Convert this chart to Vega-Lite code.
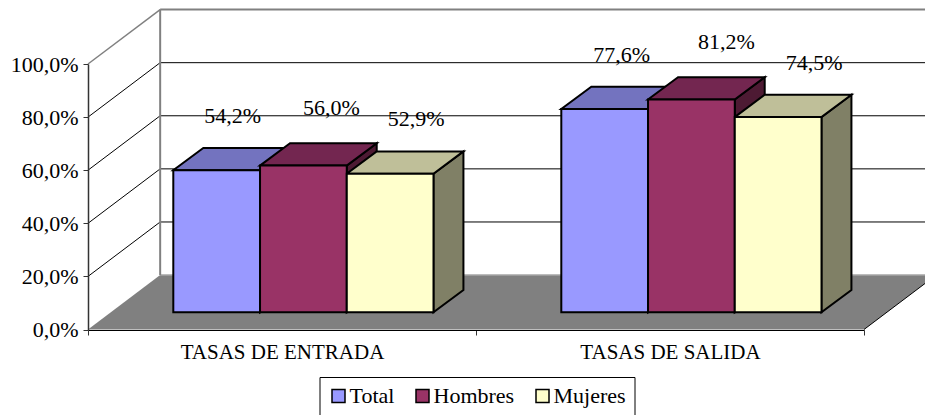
{
"$schema":"https://vega.github.io/schema/vega-lite/v6.json",
"width":837,"height":330,
"padding":{"left":88,"top":0,"right":0,"bottom":85},
"autosize":{"type":"none"},
"background":"#ffffff",
"config":{"view":{"stroke":null},"text":{"font":"Liberation Serif"}},
"data":{"values":[
{"group":"TASAS DE ENTRADA","series":"Total","value":54.2},
{"group":"TASAS DE ENTRADA","series":"Hombres","value":56.0},
{"group":"TASAS DE ENTRADA","series":"Mujeres","value":52.9},
{"group":"TASAS DE SALIDA","series":"Total","value":77.6},
{"group":"TASAS DE SALIDA","series":"Hombres","value":81.2},
{"group":"TASAS DE SALIDA","series":"Mujeres","value":74.5}
]},
"transform":[
{"calculate":"datum.group==='TASAS DE ENTRADA'?0:1","as":"g"},
{"calculate":"datum.series==='Total'?0:datum.series==='Hombres'?1:2","as":"s"},
{"calculate":"datum.g+0.2198+datum.s*0.2235","as":"xl"},
{"calculate":"datum.xl+0.2235","as":"xr"}
],
"resolve":{"scale":{"x":"independent","y":"independent","color":"independent"},"axis":{"x":"independent","y":"independent"}},
"layer":[
{"data":{"values":[{"t":0},{"t":1}]},
 "transform":[{"calculate":"datum.t*0.186","as":"xa"},{"calculate":"2+datum.t*0.186","as":"xb"},{"calculate":"datum.t*20.5","as":"yy"}],
 "mark":{"type":"area","orient":"horizontal","fill":"#808080"},
 "encoding":{
  "y":{"field":"yy","type":"quantitative","scale":{"domain":[0,100],"range":[329.5,64],"nice":false},"axis":null},
  "x":{"field":"xa","type":"quantitative","scale":{"domain":[0,2],"range":[0,776],"nice":false,"zero":false},"axis":null},
  "x2":{"field":"xb"}}},
{"data":{"values":[{"tick":0},{"tick":20},{"tick":40},{"tick":60},{"tick":80},{"tick":100}]},
 "transform":[{"filter":"datum.tick>0"},{"calculate":"datum.tick+20.5","as":"back"}],
 "mark":{"type":"rule"},
 "encoding":{
  "x":{"datum":0,"type":"quantitative","scale":{"domain":[0,2],"range":[0,776],"nice":false,"zero":false},"axis":null},
  "x2":{"datum":0.186},
  "y":{"field":"tick","type":"quantitative","scale":{"domain":[0,100],"range":[329.5,64],"nice":false},
   "axis":{"values":[0,20,40,60,80,100],"labelExpr":"replace(format(datum.value,'.1f'),'.',',')+'%'","title":null,"grid":false,"domainColor":"#333333","domainWidth":1.5,"tickColor":"#333333","tickSize":5,"labelFont":"Liberation Serif","labelFontSize":22,"labelColor":"#000000","labelPadding":5,"zindex":1}},
  "y2":{"field":"back"},
  "stroke":{"condition":{"test":"datum.tick===100","value":"#808080"},"value":"#000000"},
  "strokeWidth":{"condition":{"test":"datum.tick===100","value":1.5},"value":1}}},
{"data":{"values":[{"tick":20},{"tick":40},{"tick":60},{"tick":80},{"tick":100}]},
 "transform":[{"calculate":"datum.tick+20.5","as":"back"}],
 "mark":{"type":"rule"},
 "encoding":{
  "x":{"datum":0.186,"type":"quantitative","scale":{"domain":[0,2],"range":[0,776],"nice":false,"zero":false},"axis":null},
  "x2":{"datum":2.186},
  "y":{"field":"back","type":"quantitative","scale":{"domain":[0,100],"range":[329.5,64],"nice":false},"axis":null},
  "stroke":{"condition":{"test":"datum.tick===100","value":"#808080"},"value":"#000000"},
  "strokeWidth":{"condition":{"test":"datum.tick===100","value":2},"value":1}}},
{"data":{"values":[{"tick":0}]},
 "transform":[{"calculate":"datum.tick+20.5","as":"back"}],
 "mark":{"type":"rule","stroke":"#a6a6a6","strokeWidth":1.5},
 "encoding":{
  "x":{"datum":0.186,"type":"quantitative","scale":{"domain":[0,2],"range":[0,776],"nice":false,"zero":false},"axis":null},
  "x2":{"datum":2.186},
  "y":{"field":"back","type":"quantitative","scale":{"domain":[0,100],"range":[329.5,64],"nice":false},"axis":null}}},
{"data":{"values":[{"tick":0}]},
 "transform":[{"calculate":"datum.tick+20.5","as":"a"},{"calculate":"datum.tick+120.5","as":"b"}],
 "mark":{"type":"rule","stroke":"#808080","strokeWidth":2},
 "encoding":{
  "x":{"datum":0.186,"type":"quantitative","scale":{"domain":[0,2],"range":[0,776],"nice":false,"zero":false},"axis":null},
  "y":{"field":"a","type":"quantitative","scale":{"domain":[0,100],"range":[329.5,64],"nice":false},"axis":null},
  "y2":{"field":"b"}}},
{"data":{"values":[{"tick":0}]},
 "transform":[{"calculate":"datum.tick+20.5","as":"back"}],
 "mark":{"type":"rule","stroke":"#000000","strokeWidth":1},
 "encoding":{
  "x":{"datum":2,"type":"quantitative","scale":{"domain":[0,2],"range":[0,776],"nice":false,"zero":false},"axis":null},
  "x2":{"datum":2.186},
  "y":{"field":"tick","type":"quantitative","scale":{"domain":[0,100],"range":[329.5,64],"nice":false},"axis":null},
  "y2":{"field":"back"}}},
{"transform":[
  {"calculate":"[0,1]","as":"t"},{"flatten":["t"]},
  {"calculate":"datum.xr+datum.t*0.0773","as":"px"},
  {"calculate":"datum.value+datum.t*8.51","as":"py"},
  {"calculate":"datum.t*8.51","as":"py2"}],
 "mark":{"type":"area","orient":"vertical","stroke":"#000000","strokeWidth":2},
 "encoding":{
  "x":{"field":"px","type":"quantitative","scale":{"domain":[0,2],"range":[0,776],"nice":false,"zero":false},"axis":null},
  "y":{"field":"py","type":"quantitative","scale":{"domain":[0,100],"range":[312.3,50.3],"nice":false},"axis":null},
  "y2":{"field":"py2"},
  "color":{"field":"series","type":"nominal","scale":{"domain":["Total","Hombres","Mujeres"],"range":["#4d4d80","#4d1a33","#808066"]},"legend":null},
  "detail":{"field":"group"}}},
{"transform":[
  {"calculate":"[0,1]","as":"t"},{"flatten":["t"]},
  {"calculate":"datum.xl+datum.t*0.0773","as":"pa"},
  {"calculate":"datum.xr+datum.t*0.0773","as":"pb"},
  {"calculate":"datum.value+datum.t*8.51","as":"py"}],
 "mark":{"type":"area","orient":"horizontal","stroke":"#000000","strokeWidth":2},
 "encoding":{
  "x":{"field":"pa","type":"quantitative","scale":{"domain":[0,2],"range":[0,776],"nice":false,"zero":false},"axis":null},
  "x2":{"field":"pb"},
  "y":{"field":"py","type":"quantitative","scale":{"domain":[0,100],"range":[312.3,50.3],"nice":false},"axis":null},
  "color":{"field":"series","type":"nominal","scale":{"domain":["Total","Hombres","Mujeres"],"range":["#7373bf","#732650","#bfbf99"]},"legend":null},
  "detail":{"field":"group"}}},
{"mark":{"type":"bar","stroke":"#000000","strokeWidth":2},
 "encoding":{
  "x":{"field":"group","type":"nominal","scale":{"domain":["TASAS DE ENTRADA","TASAS DE SALIDA"],"range":[0,776],"paddingInner":0,"paddingOuter":0},
   "axis":{"title":null,"labelAngle":0,"labelLimit":400,"tickBand":"extent","domainColor":"#000000","domainWidth":1,"tickColor":"#333333","tickSize":5,"labelFont":"Liberation Serif","labelFontSize":21,"labelColor":"#000000","labelPadding":6,"zindex":1}},
  "xOffset":{"field":"series","type":"nominal","scale":{"domain":["Total","Hombres","Mujeres"],"range":[85.3,345.5],"paddingInner":0,"paddingOuter":0}},
  "y":{"field":"value","type":"quantitative","scale":{"domain":[0,100],"range":[312.3,50.3],"nice":false},"axis":null},
  "y2":{"datum":0},
  "color":{"field":"series","type":"nominal","scale":{"domain":["Total","Hombres","Mujeres"],"range":["#9999ff","#993366","#ffffcc"]},
   "legend":{"title":null,"orient":"none","legendX":231.5,"legendY":377,"direction":"horizontal","columns":3,"fillColor":"#ffffff","strokeColor":"#000000","padding":8,"symbolType":"square","symbolSize":169,"symbolStrokeColor":"#000000","symbolStrokeWidth":1.5,"labelFont":"Liberation Serif","labelFontSize":22,"labelColor":"#000000","labelOffset":0,"columnPadding":17,"symbolOpacity":1}}}},
{"transform":[
  {"calculate":"replace(format(datum.value,'.1f'),'.',',')+'%'","as":"label"},
  {"calculate":"(datum.xl+datum.xr)/2+({'0|0':16,'0|1':28,'0|2':26,'1|0':17,'1|1':35,'1|2':36}[datum.g+'|'+datum.s])/388","as":"lx"},
  {"calculate":"datum.value+({'0':54,'1':57.5,'2':54.5}[''+datum.s])/2.62","as":"ly"}],
 "mark":{"type":"text","font":"Liberation Serif","fontSize":22,"color":"#000000","align":"center","baseline":"middle"},
 "encoding":{
  "x":{"field":"lx","type":"quantitative","scale":{"domain":[0,2],"range":[0,776],"nice":false,"zero":false},"axis":null},
  "y":{"field":"ly","type":"quantitative","scale":{"domain":[0,100],"range":[312.3,50.3],"nice":false},"axis":null},
  "text":{"field":"label"}}}
]
}
